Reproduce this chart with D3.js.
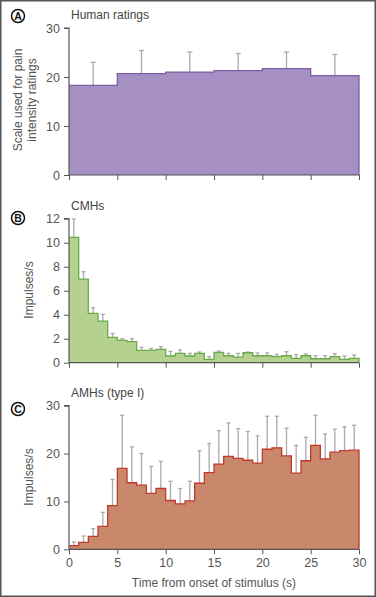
<!DOCTYPE html>
<html>
<head>
<meta charset="utf-8">
<script src="https://cdn.jsdelivr.net/npm/d3@7"></script>
<style>
  html, body { margin: 0; padding: 0; background: #fff; }
  svg { display: block; font-family: "Liberation Sans", Arial, sans-serif; }
</style>
</head>
<body>
<div id="chart"></div>
<script>
// Human ratings, 6 bins of 5 s
const human_means = [18.3, 20.7, 21.0, 21.3, 21.7, 20.3]
const human_errors = [23.0, 25.4, 25.1, 24.8, 25.1, 24.6]

// CMHs, 30 bins of 1 s
const cmh_means = [10.44, 6.97, 4.11, 3.47, 2.11, 1.86, 1.75, 1.03, 1.03, 1.11,
  0.56, 0.78, 0.56, 0.78, 0.28, 0.86, 0.58, 0.47, 0.83, 0.58,
  0.58, 0.5, 0.58, 0.36, 0.58, 0.33, 0.33, 0.5, 0.28, 0.36]
const cmh_errors = [11.97, 7.58, 4.58, 4.03, 2.44, 2.0, 2.0, 1.28, 1.19, 1.33,
  0.94, 1.06, 0.78, 0.89, 0.5, 0.97, 0.78, 0.78, 0.89, 0.81,
  0.81, 0.69, 0.92, 0.67, 0.72, 0.58, 0.58, 0.75, 0.56, 0.64]

// AMHs (type I), 30 bins of 1 s
const amh_means = [0.77, 1.46, 2.71, 4.8, 9.12, 16.9, 13.9, 13.4, 11.7, 12.7,
  10.2, 9.5, 10.1, 13.8, 16.0, 17.8, 19.4, 19.0, 18.6, 18.0,
  20.9, 21.2, 19.5, 15.9, 18.5, 21.7, 18.9, 20.3, 20.6, 20.7]
const amh_errors = [1.53, 2.78, 4.31, 7.72, 14.6, 28.0, 21.4, 20.0, 17.3, 18.4,
  14.2, 12.7, 14.2, 20.6, 22.1, 24.8, 26.4, 25.2, 24.6, 23.7,
  27.8, 27.8, 25.3, 21.7, 23.4, 28.0, 24.1, 25.1, 25.6, 25.9]

const x_ticks = [0, 5, 10, 15, 20, 25, 30]

const width = 376, height = 597
const svg = d3.select("#chart").append("svg")
  .attr("width", width).attr("height", height)

svg.append("rect")
  .attr("x", 0.75).attr("y", 0.75)
  .attr("width", width - 1.5).attr("height", height - 1.5)
  .attr("fill", "none").attr("stroke", "#555").attr("stroke-width", 1.5)

const x = d3.scaleLinear().domain([0, 30]).range([69, 359])

const panels = [
  { letter: "A", title: "Human ratings", means: human_means, errors: human_errors, binw: 5,
    ymax: 30, yticks: [0, 10, 20, 30], top: 28, bottom: 175, letterY: 16,
    fill: "#a68fc3", stroke: "#7c5fa5", cap: 5, labels: ["Scale used for pain", "intensity ratings"], labelY: 100, xlabels: false },
  { letter: "B", title: "CMHs", means: cmh_means, errors: cmh_errors, binw: 1,
    ymax: 12, yticks: [0, 2, 4, 6, 8, 10, 12], top: 218.7, bottom: 362.7, letterY: 218,
    fill: "#b5d18f", stroke: "#6aaa4a", cap: 4, labels: ["Impulses/s"], labelY: 290, xlabels: false },
  { letter: "C", title: "AMHs (type I)", means: amh_means, errors: amh_errors, binw: 1,
    ymax: 30, yticks: [0, 10, 20, 30], top: 405.7, bottom: 549.3, letterY: 409,
    fill: "#c9876b", stroke: "#c0392b", cap: 4, labels: ["Impulses/s"], labelY: 477, xlabels: true }
]

panels.forEach((p) => {
  const y = d3.scaleLinear().domain([0, p.ymax]).range([p.bottom, p.top])
  const g = svg.append("g")

  const pts = p.means.map((v, i) => [i * p.binw, v])
  pts.push([30, p.means[p.means.length - 1]])

  // error bars (behind the bars)
  const eb = g.append("g").attr("stroke", "#aaa").attr("stroke-width", 1.3)
  p.means.forEach((v, i) => {
    const cx = x(i * p.binw + p.binw / 2)
    eb.append("line").attr("x1", cx).attr("x2", cx)
      .attr("y1", y(v)).attr("y2", y(p.errors[i]))
    eb.append("line").attr("x1", cx - p.cap / 2).attr("x2", cx + p.cap / 2)
      .attr("y1", y(p.errors[i])).attr("y2", y(p.errors[i]))
  })

  const area = d3.area().curve(d3.curveStepAfter)
    .x((d) => x(d[0])).y0(y(0)).y1((d) => y(d[1]))
  g.append("path").attr("d", area(pts)).attr("fill", p.fill)

  const line = d3.line().curve(d3.curveStepAfter)
    .x((d) => x(d[0])).y((d) => y(d[1]))
  g.append("path")
    .attr("d", line(pts) + `L${x(30)},${y(0)}`)
    .attr("fill", "none").attr("stroke", p.stroke).attr("stroke-width", 1.3)

  // y axis
  const yAxis = d3.axisLeft(y).tickValues(p.yticks).tickSize(5).tickPadding(4)
  const ya = g.append("g").attr("transform", `translate(${x(0)},0)`).call(yAxis)
  // x axis
  const xAxis = d3.axisBottom(x).tickValues(x_ticks).tickSize(5).tickPadding(4)
  if (!p.xlabels) xAxis.tickFormat("")
  const xa = g.append("g").attr("transform", `translate(0,${y(0)})`).call(xAxis)
  ;[ya, xa].forEach((a) => {
    a.select(".domain").attr("stroke", "#555").attr("stroke-width", 1.2)
    a.selectAll(".tick line").attr("stroke", "#555").attr("stroke-width", 1)
    a.selectAll("text").attr("fill", "#555").style("font-size", "12.5px")
      .style("font-family", "Liberation Sans, Arial, sans-serif")
  })
  ya.select(".domain").attr("d", `M-5,${y(p.ymax)}H0V${y(0)}`)
  xa.select(".domain").attr("d", `M${x(0)},0H${x(30)}`)

  // title
  g.append("text").attr("x", 71).attr("y", p.top - 9)
    .attr("fill", "#444").style("font-size", "12px").text(p.title)

  // panel letter
  g.append("circle").attr("cx", 18).attr("cy", p.letterY).attr("r", 6.5)
    .attr("fill", "#fff").attr("stroke", "#111").attr("stroke-width", 1.5)
  g.append("text").attr("x", 18).attr("y", p.letterY + 3.8)
    .attr("text-anchor", "middle").attr("font-weight", "bold")
    .style("font-size", "10.5px").attr("fill", "#111").text(p.letter)

  // y label
  const lx = p.labels.length === 2 ? [22, 36] : [33]
  p.labels.forEach((t, i) => {
    g.append("text")
      .attr("transform", `translate(${lx[i]},${p.labelY}) rotate(-90)`)
      .attr("text-anchor", "middle").attr("fill", "#555")
      .style("font-size", "12px").text(t)
  })
})

svg.append("text").attr("x", 214).attr("y", 587)
  .attr("text-anchor", "middle").attr("fill", "#555")
  .style("font-size", "12px").text("Time from onset of stimulus (s)")
</script>
</body>
</html>
